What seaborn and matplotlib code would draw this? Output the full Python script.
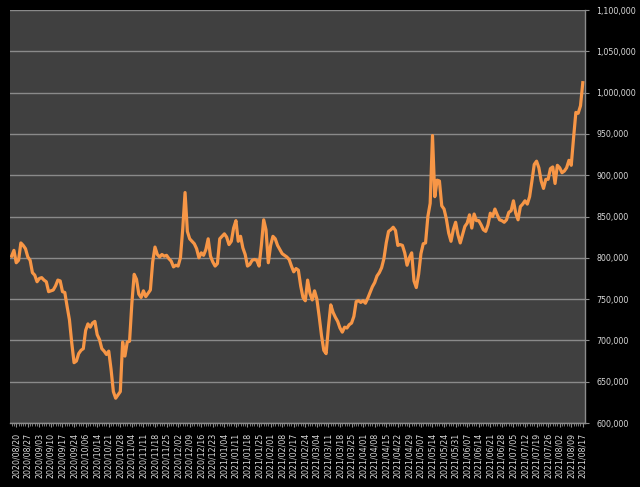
import numpy as np
import pandas as pd
import matplotlib
matplotlib.use("Agg")
import matplotlib.pyplot as plt
import seaborn as sns
from matplotlib.ticker import FuncFormatter, MultipleLocator, FixedLocator

# values in thousands, one per data point
values_k = [
    802, 809, 794, 797, 818, 815, 811, 801, 797, 782,
    779, 771, 775, 776, 773, 771, 759, 760, 761, 766,
    773, 772, 759, 758, 741, 725, 697, 673, 675, 684,
    688, 690, 712, 720, 716, 721, 723, 707, 701, 690,
    687, 683, 687, 665, 638, 630, 634, 638, 698, 681,
    698, 699, 745, 780, 774, 756, 752, 760, 753, 757,
    761, 795, 813, 804, 801, 804, 802, 803, 799, 796,
    789, 791, 790, 800, 835, 879, 832, 823, 820, 817,
    811, 800, 806, 803, 810, 823, 802, 795, 790, 793,
    823, 826, 829, 825, 816, 820, 836, 845, 820, 826,
    812, 804, 790, 792, 797, 798, 797, 790, 815, 846,
    834, 794, 815, 826, 823, 815, 810, 805, 803, 801,
    798, 790, 783, 787, 785, 766, 752, 748, 773, 757,
    749, 760, 750, 729, 706, 688, 684, 716, 743, 734,
    728, 723, 715, 710, 716, 715, 719, 721, 729, 747,
    748, 746, 748, 745, 751, 758, 765, 770, 778, 782,
    788, 799, 818, 832, 834, 837, 833, 815, 816, 815,
    806, 791, 800, 806, 772, 764, 780, 805, 817, 818,
    850, 866, 948, 874, 894, 893, 863, 859, 847, 830,
    820, 834, 843, 828, 818, 828, 838, 842, 852, 836,
    853, 845, 845, 840, 834, 832, 840, 854, 850, 859,
    852, 846, 845, 843, 846, 855, 857, 869, 854, 846,
    862, 865, 869, 865, 874, 893, 913, 917, 909, 893,
    884, 895, 895, 908, 910, 890, 912, 909, 903, 905,
    909, 918, 912, 945, 976, 975, 984, 1012,
]

tick_labels = [
    "2020/08/20", "2020/08/27", "2020/09/03", "2020/09/10", "2020/09/17",
    "2020/09/24", "2020/10/06", "2020/10/14", "2020/10/21", "2020/10/28",
    "2020/11/04", "2020/11/11", "2020/11/18", "2020/11/25", "2020/12/02",
    "2020/12/09", "2020/12/16", "2020/12/23", "2021/01/04", "2021/01/11",
    "2021/01/18", "2021/01/25", "2021/02/01", "2021/02/08", "2021/02/17",
    "2021/02/24", "2021/03/04", "2021/03/11", "2021/03/18", "2021/03/25",
    "2021/04/01", "2021/04/08", "2021/04/15", "2021/04/22", "2021/04/29",
    "2021/05/07", "2021/05/14", "2021/05/24", "2021/05/31", "2021/06/07",
    "2021/06/14", "2021/06/21", "2021/06/28", "2021/07/05", "2021/07/12",
    "2021/07/19", "2021/07/26", "2021/08/02", "2021/08/09", "2021/08/17",
]

y_ticks = [600000, 650000, 700000, 750000, 800000, 850000,
           900000, 950000, 1000000, 1050000, 1100000]


def main():
    df = pd.DataFrame({"idx": np.arange(len(values_k)),
                       "value": np.array(values_k) * 1000})

    fig = plt.figure(figsize=(6.4, 4.87), dpi=100, facecolor="black")
    ax = fig.add_axes([10 / 640, 64 / 487, 575 / 640, 413 / 487])
    ax.set_facecolor("#404040")

    sns.lineplot(data=df, x="idx", y="value", ax=ax, color="#F79646",
                 linewidth=2.3, zorder=3)

    ax.set_xlim(-0.7, len(values_k) - 0.05)
    ax.set_ylim(600000, 1100000)

    # y axis on the right
    ax.yaxis.tick_right()
    ax.set_yticks(y_ticks)
    ax.yaxis.set_major_formatter(FuncFormatter(lambda v, p: f"{int(v):,}"))
    ax.tick_params(axis="y", colors="#8c8c8c", labelcolor="#d9d9d9",
                   labelsize=5.7, length=3, pad=5)
    ax.grid(axis="y", color="#8a8a8a", linewidth=1, zorder=1)
    ax.grid(axis="x", visible=False)

    # x axis: label every 5 points, small tick per point
    label_pos = [2 + 5 * k for k in range(len(tick_labels))]
    ax.xaxis.set_major_locator(FixedLocator(label_pos))
    ax.set_xticklabels(tick_labels, rotation=90)
    ax.xaxis.set_minor_locator(MultipleLocator(1))
    ax.tick_params(axis="x", which="major", colors="#8c8c8c",
                   labelcolor="#d9d9d9", labelsize=5.7, length=3, pad=4)
    ax.tick_params(axis="x", which="minor", colors="#8c8c8c", length=2)

    for side in ["top", "left"]:
        ax.spines[side].set_visible(False)
    for side in ["bottom", "right"]:
        ax.spines[side].set_color("#8c8c8c")
        ax.spines[side].set_linewidth(1)

    ax.set_xlabel("")
    ax.set_ylabel("")

    fig.savefig("out.png", dpi=100, facecolor="black")


if __name__ == "__main__":
    main()
